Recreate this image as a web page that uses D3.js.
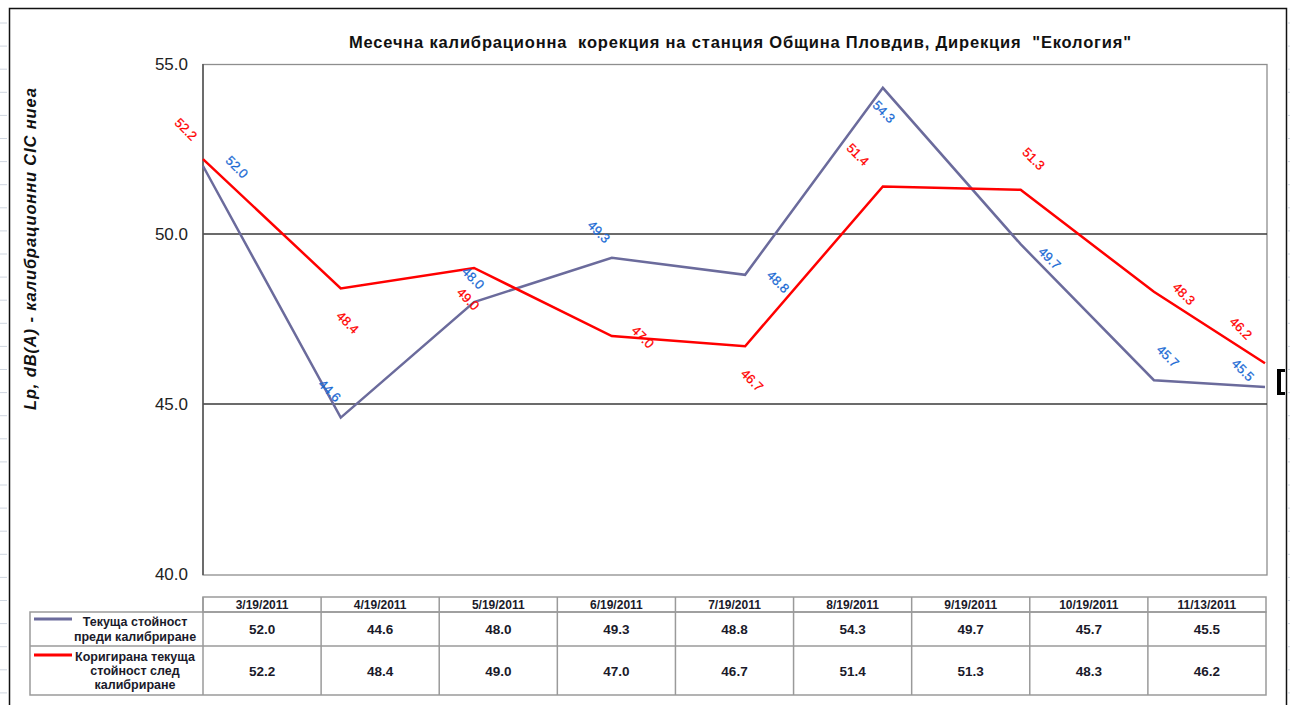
<!DOCTYPE html>
<html lang="bg">
<head>
<meta charset="UTF-8">
<title>Месечна калибрационна корекция</title>
<script src="https://cdn.jsdelivr.net/npm/d3@7"></script>
<style>
  html, body { margin: 0; padding: 0; background: #fff; }
  svg { display: block; font-family: "Liberation Sans", Arial, sans-serif; }
</style>
</head>
<body>
<svg width="1290" height="705"></svg>
<script>
    // chart data
    const dates = ["2011-03-19","2011-04-19","2011-05-19","2011-06-19","2011-07-19",
                   "2011-08-19","2011-09-19","2011-10-19","2011-11-13"]
    const dateLabels = ["3/19/2011","4/19/2011","5/19/2011","6/19/2011","7/19/2011",
                        "8/19/2011","9/19/2011","10/19/2011","11/13/2011"]
    const before = [52.0, 44.6, 48.0, 49.3, 48.8, 54.3, 49.7, 45.7, 45.5]
    const after  = [52.2, 48.4, 49.0, 47.0, 46.7, 51.4, 51.3, 48.3, 46.2]
    const yTicks = [40, 45, 50, 55]
    const seriesNames = [["Текуща стойност","преди калибриране"],
                         ["Коригирана текуща","стойност след","калибриране"]]
    const title = "Месечна калибрационна  корекция на станция Община Пловдив, Дирекция  \"Екология\""
    const yTitle = "Lp, dB(A) - калибрационни CIC ниеа"

    // label placement (px offsets from the point), like the excel labels
    const beforeLabelOff = [[34,1],[-11,-27],[-1,-24],[-13,-26],[33,7],[1,24],[29,14],[14,-24],[-22,-17]]
    const afterLabelOff  = [[-17,-30],[7,34],[-6,31],[31,1],[7,34],[-25,-32],[13,-31],[30,2],[-24,-35]]

    const parse = d3.timeParse("%Y-%m-%d")
    const blueLine = "#6b6b9c", redLine = "#ff0000"
    const blueText = "#1a6ad4", redText = "#ff0000"

    const svg = d3.select("svg")

    // spreadsheet frame
    const sheet = svg.append("g")
    d3.range(23, 705, 23.1).forEach(y => {
        sheet.append("line").attr("x1",0).attr("x2",7).attr("y1",y).attr("y2",y)
            .attr("stroke","#cfd6e0").attr("stroke-width",1)
        sheet.append("line").attr("x1",1288).attr("x2",1290).attr("y1",y).attr("y2",y)
            .attr("stroke","#cfd6e0").attr("stroke-width",1)
    })
    sheet.append("path").attr("d","M9.5,705 V8.5 H1286.5 V705")
        .attr("fill","none").attr("stroke","#111").attr("stroke-width",1.5)

    const plotL = 203, plotR = 1267, plotT = 64, plotB = 574

    const x = d3.scaleTime()
        .domain([parse(dates[0]), parse(dates[dates.length-1])])
        .range([plotL, 1265])
    const y = d3.scaleLinear().domain([40,55]).range([plotB, plotT])

    // plot area
    svg.append("rect").attr("x",plotL).attr("y",plotT+0.5).attr("width",plotR-plotL).attr("height",plotB-plotT+0.5)
        .attr("fill","#fff").attr("stroke","#8e8e8e").attr("stroke-width",1.3)

    const grid = svg.append("g")
    grid.selectAll("line").data(yTicks.filter(d => d > 40 && d < 55)).join("line")
        .attr("x1",plotL).attr("x2",plotR)
        .attr("y1",d => y(d)).attr("y2",d => y(d))
        .attr("stroke","#3a3a3a").attr("stroke-width",1.4)
    svg.append("line").attr("x1",plotL).attr("x2",plotL).attr("y1",plotT).attr("y2",plotB+1)
        .attr("stroke","#555").attr("stroke-width",1.5)

    const yAxis = d3.axisLeft(y).tickValues(yTicks).tickFormat(d3.format(".1f")).tickSize(0).tickPadding(15)
    const ya = svg.append("g").attr("transform",`translate(${plotL},0)`).call(yAxis)
    ya.select(".domain").remove()
    ya.selectAll("text").attr("font-size",17).attr("fill","#222").attr("font-family","Liberation Sans, Arial")

    // titles
    svg.append("text").attr("x",349).attr("y",48)
        .attr("font-size",16.5).attr("font-weight","bold").attr("fill","#111")
        .attr("textLength",782).attr("lengthAdjust","spacing")
        .style("white-space","pre").text(title)
    svg.append("text").attr("transform","translate(36,410) rotate(-90)")
        .attr("font-size",16.5).attr("font-weight","bold").attr("font-style","italic").attr("fill","#111")
        .attr("textLength",322).attr("lengthAdjust","spacing")
        .text(yTitle)

    // series lines
    const line = d3.line().x((d,i) => x(parse(dates[i]))).y(d => y(d))
    svg.append("path").datum(before).attr("d",line).attr("fill","none")
        .attr("stroke",blueLine).attr("stroke-width",2.5).attr("stroke-linejoin","miter")
    svg.append("path").datum(after).attr("d",line).attr("fill","none")
        .attr("stroke",redLine).attr("stroke-width",2.5).attr("stroke-linejoin","miter")

    // data labels
    function labels(vals, offs, color) {
        svg.append("g").selectAll("text").data(vals).join("text")
            .attr("transform",(d,i) => `translate(${x(parse(dates[i]))+offs[i][0]},${y(d)+offs[i][1]}) rotate(45)`)
            .attr("text-anchor","middle").attr("dy","0.35em")
            .attr("font-size",13).attr("fill",color)
            .attr("stroke",color).attr("stroke-width",0.25)
            .text(d => d3.format(".1f")(d))
    }
    labels(before, beforeLabelOff, blueText)
    labels(after, afterLabelOff, redText)

    // selection handle at the right edge
    svg.append("path").attr("d","M1285,369 H1277 V395 H1285 V392 H1281 V372 H1285 Z").attr("fill","#000")

    // data table
    const col = d3.scaleBand().domain(dateLabels).range([plotL, 1266])
    const rowY = [597, 612, 646, 695]
    const legL = 30
    const tbl = svg.append("g").attr("stroke","#9a9a9a").attr("stroke-width",1.5).attr("fill","none")
    tbl.append("rect").attr("x",plotL).attr("y",rowY[0]).attr("width",1266-plotL).attr("height",rowY[1]-rowY[0])
    tbl.append("rect").attr("x",legL).attr("y",rowY[1]).attr("width",1266-legL).attr("height",rowY[3]-rowY[1])
    tbl.append("line").attr("x1",legL).attr("x2",1266).attr("y1",rowY[2]).attr("y2",rowY[2])
    tbl.selectAll(".v").data(dateLabels).join("line").attr("class","v")
        .attr("x1",d => col(d)).attr("x2",d => col(d)).attr("y1",rowY[0]).attr("y2",rowY[3])

    svg.append("g").selectAll("text").data(dateLabels).join("text")
        .attr("x",d => col(d) + col.bandwidth()/2).attr("y",609).attr("text-anchor","middle")
        .attr("font-size",12).attr("font-weight","bold").attr("fill","#1a1a2a").text(d => d)

    const rows = [before, after]
    const rowMid = [629, 671]
    rows.forEach((vals, r) => {
        svg.append("g").selectAll("text").data(vals).join("text")
            .attr("x",(d,i) => col(dateLabels[i]) + col.bandwidth()/2).attr("y",rowMid[r])
            .attr("dy","0.35em").attr("text-anchor","middle")
            .attr("font-size",13.5).attr("font-weight","bold").attr("fill","#1a1a2a")
            .text(d => d3.format(".1f")(d))
    })

    // legend cells
    const legColor = [blueLine, redLine]
    const legLineY = [619, 655]
    const legTextY = [[626, 641], [661, 675, 689]]
    seriesNames.forEach((lines, r) => {
        svg.append("line").attr("x1",34).attr("x2",72).attr("y1",legLineY[r]).attr("y2",legLineY[r])
            .attr("stroke",legColor[r]).attr("stroke-width",3)
        svg.append("g").selectAll("text").data(lines).join("text")
            .attr("x",135).attr("y",(d,i) => legTextY[r][i]).attr("text-anchor","middle")
            .attr("font-size",12.5).attr("font-weight","bold").attr("fill","#1a1a2a")
            .text(d => d)
    })
</script>
</body>
</html>
